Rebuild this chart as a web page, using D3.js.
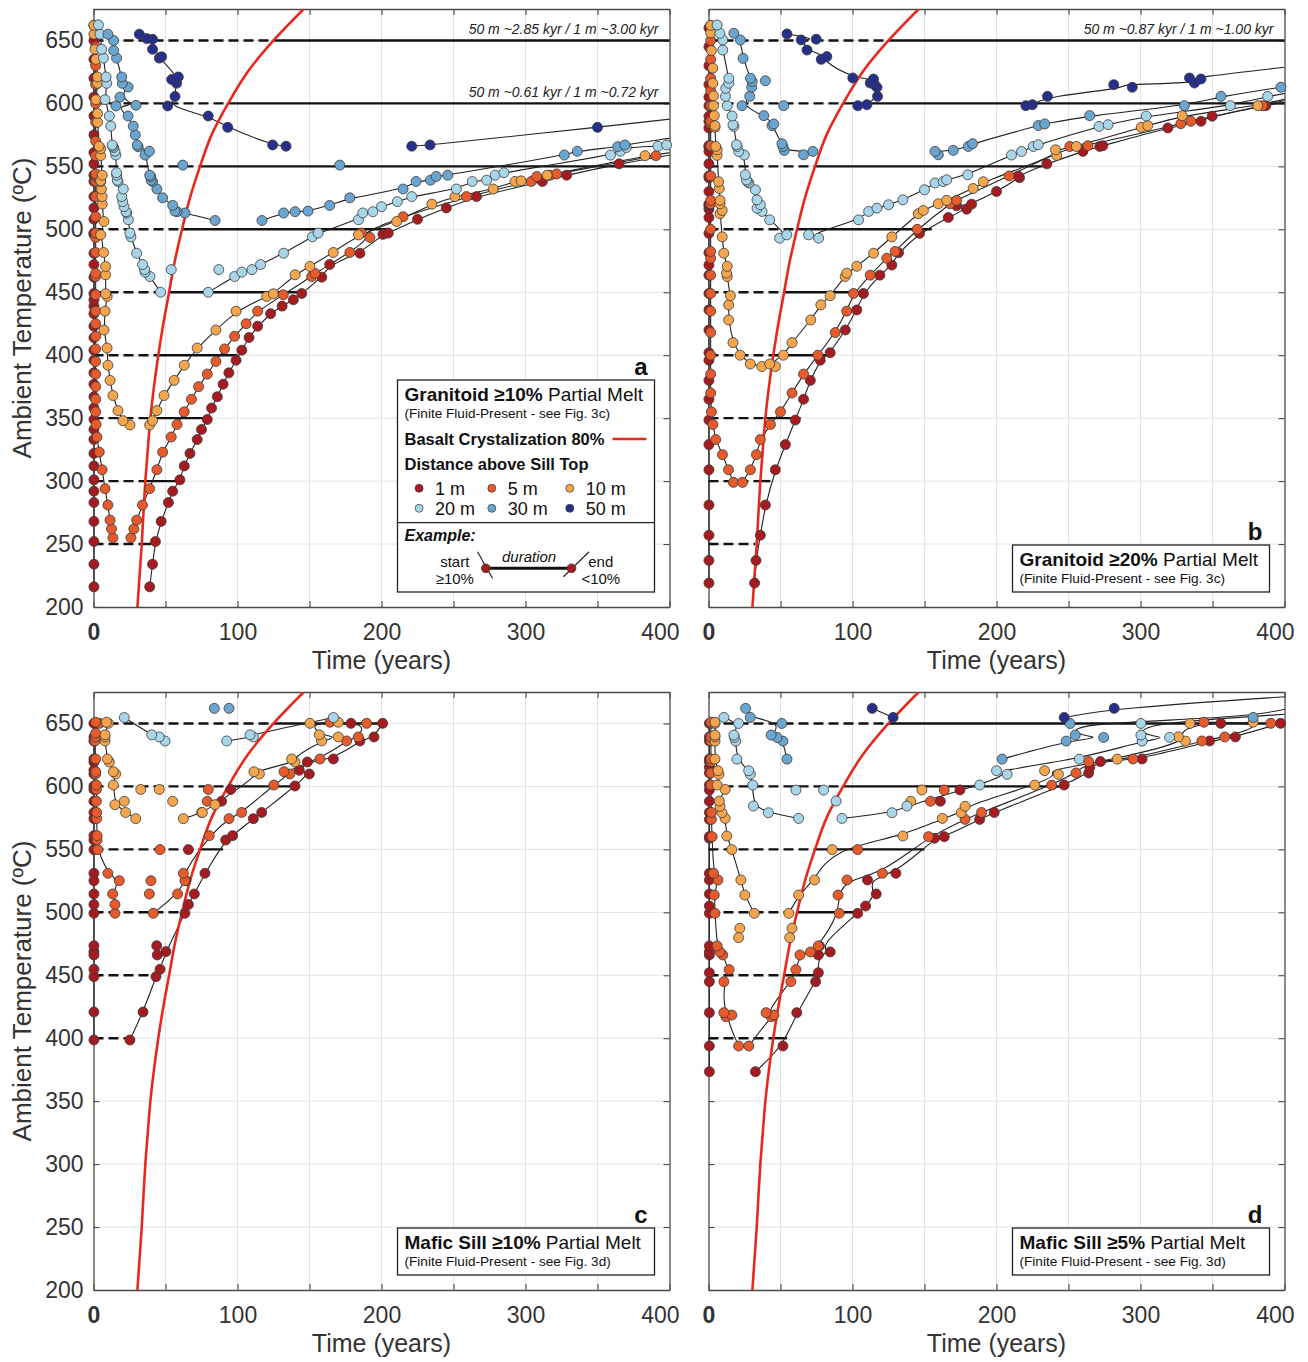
<!DOCTYPE html>
<html><head><meta charset="utf-8">
<script src="https://cdn.jsdelivr.net/npm/d3@7"></script>
<style>
body{margin:0;background:#fff;}
svg{display:block;}
</style></head><body>
<svg id="chart" width="1308" height="1362"></svg>
<script>
// ================= DATA =================
const distances = ["1 m","5 m","10 m","20 m","30 m","50 m"];
const distColors = ["#a51b20","#e75a2b","#f5a54c","#a8d5ea","#6aa5cf","#262f8a"];
const xTicks = [0,50,100,150,200,250,300,350,400];
const xTickLabels = [0,100,200,300,400];
const yTicks = [200,250,300,350,400,450,500,550,600,650];

// Basalt crystallization 80% (time, years) vs ambient temperature
const crystT    = [200,225,250,275,300,325,350,375,400,425,450,475,500,525,550,575,600,625,650,675];
const crystTime = [30.5,32,33.5,34.7,36,37.7,39.5,42,45,48.5,52.5,56.5,61.5,67,74,82,93.5,107,125,146];

// Ambient-temperature levels and 1 m melt end time at each level
const levelsAB = [250,300,350,400,450,500,550,600,650];
const levelsCD = [400,450,500,550,600,650];
const levelEndA = [40,62,80,100,147,205,470,720,3000];
const levelEndB = [32.5,43,64,85,109,155,232,405,1000];
const levelEndC = [26,43,63.5,90,138.5,201];
const levelEndD = [54.6,75.7,105,150,246.7,398];

const notesA = [[650,"50 m ~2.85 kyr / 1 m ~3.00 kyr"],[600,"50 m ~0.61 kyr / 1 m ~0.72 kyr"]];
const notesB = [[650,"50 m ~0.87 kyr / 1 m ~1.00 kyr"]];

// Each row: [ambient T (°C), melt start (yr), melt end (yr)]
// ---- panel a: Granitoid >=10%
const a1m = [[216,0.3,39],[234,0.3,41],[252,0.3,43],[268,0.3,47],[283,0.3,52],[292,0.3,55],[301,0.3,60],[312,0.3,63],[322,0.3,67],[333,0.3,72],[341,0.3,75],[349,0.3,79],[358,0.3,82],[367,0.3,86],[377,0.3,90],[386,0.3,94],[396,0.3,99],[404,0.3,103],[414,0.3,108],[423,0.3,114],[433,0.3,123],[439,0.3,131],[444,0.3,138.8],[449,0.3,144.6],[462,0.3,158.5],[472,0.3,164],[481,0.3,185],[496,0.3,201],[497,0.3,204.7],[508,0.3,225],[517,0.3,245],[526,0.3,266],[538,0.3,311.7],[543,0.3,328.6],[552,0.3,365],[561,0.3,410],[575,0.3,null],[590,0.3,null],[605,0.3,null],[620,0.3,null],[635,0.3,null],[650,0.3,null],[662,0.3,null]];
const a5m = [[255,13.5,26],[262,12.5,28],[269,11.5,30],[281,10,34],[294,8,39],[309,6,44],[323,4,48],[335,2.4,54],[345,1.8,58],[355,1.5,63],[365,1.5,68],[375,1.5,73],[385,1.5,79],[395,1.5,85],[405,1.5,91],[415,1.5,98],[425,1.5,106],[435,1.5,114],[448,1.5,131.8],[462.5,1.5,151.5],[465,1.5,153.8],[481.6,1.5,178],[493.5,1.5,192],[497,1.5,186],[510,1.5,215],[526,1.5,259],[538,1.5,304],[542,1.5,307.8],[543,1.5,317],[544,1.5,321.6],[558.5,1.5,390.6],[570,1.5,null],[585,1.5,null],[600,1.5,null],[615,1.5,null],[630,1.5,null],[645,1.5,null],[660,1.5,null]];
const a10m = [[344.6,25.3,39],[348,20.5,41],[356,17,44],[368,13.5,49],[380,11.5,56],[392,10,63],[405.7,9.4,72],[420,7.3,85],[435,8,99],[446.7,9.5,120.3],[448.8,8.4,124.9],[463.9,8.4,140],[470.5,8.4,150.3],[481.6,7,166.5],[495.6,5,184],[506.2,7.3,210.5],[520,6.1,235],[526,6,251],[532,5.5,277.6],[538,5,292.7],[538.5,5,297],[543,6.1,315],[558.5,5,383],[564,5,420],[566,3.9,null],[585,2.8,null],[592,2.8,null],[603,1.7,null],[616,2.8,null],[621,2.8,null],[635,1.7,null],[643,1,null],[655,0.3,null],[662,0.3,null]];
const a20m = [[450,46.6,79.7],[462.5,39.2,98],[466,35.8,103],[468,35.5,110],[472,34.1,116],[481,30,132],[494,26,152],[497,25.3,156],[507.6,24.2,184],[513,23,187],[514,22.6,194],[518,21.2,200],[522,20.3,211],[526,19.6,221],[532,20.7,252],[538,17,263],[539,16.5,273],[543,16.1,279],[545,16,285],[559,15.5,359],[562,14.9,366],[565,14,370],[566,13.3,392],[567,13,398],[582,12,null],[590,11,null],[603,8,null],[616,9.2,null],[621,8.7,null],[636,6.9,null],[643,5.7,null],[655,4.5,null],[662.4,3.4,null]];
const a30m = [[507,84.4,117],[513,63.5,132],[514,58,140],[514.5,56.6,149],[519,55,164],[525,48,178],[532,44,215],[538,41,224],[539,40,234],[542,39.7,238],[543,39,246],[559,35.8,327],[562,38.8,336],[565.6,31,364],[567,30.4,369],[575,29,415],[582,27.6,null],[590,24,null],[598,15.6,null],[598.5,29.5,null],[605,18.4,null],[613,24,null],[616,20,null],[621,19.6,null],[636,16,null],[642,14,null],[650,14,null],[655,10,null]];
const a50m = [[566,133.7,221],[567,124.4,233.7],[581,93.2,350],[590,79.7,420],[598,51.5,null],[605.5,56.6,null],[616,57.7,null],[619,54.3,null],[621,58.9,null],[636,45.7,null],[637,47.3,null],[643,41,null],[651,41,null],[651.5,36.9,null],[655,31.8,null]];
// isolated dots: [distance index, time, T]
const aExtras = [[3,54,468],[3,87,468],[4,62,551],[4,171,551]];

// ---- panel b: Granitoid >=20%
const b1m = [[219,0.3,32],[237,0.3,33],[257,0.3,36],[281,0.3,39.5],[309,0.3,46.4],[329,0.3,53.4],[348.5,0.3,60.3],[365,0.3,66],[380,0.3,70.7],[396,0.3,77.6],[402,0.3,84.5],[420,0.3,95],[436,0.3,103],[449,0.3,107.6],[463.6,0.3,119],[471.6,0.3,127.3],[481.4,0.3,132],[496.8,0.3,146.5],[509.4,0.3,166.5],[516,0.3,179.3],[518.7,0.3,172.3],[520,0.3,182.7],[530,0.3,200],[541,0.3,216],[542.4,0.3,215],[552,0.3,235],[561.9,0.3,260],[565.8,0.3,271.7],[566.4,0.3,273.8],[580.5,0.3,319],[585.8,0.3,342],[589.8,0.3,349.8],[598.2,0.3,387],[605,0.3,420],[615,0.3,null],[630,0.3,null],[645,0.3,null],[660,0.3,null]];
const b5m = [[299,17.3,23.6],[309,13.9,29.1],[321,9.7,33.3],[333,5,36],[345,3,43],[355,2,50],[370,1.5,58],[385,1.5,66],[400,1.5,76],[418,1.5,88],[435,1.5,96],[449,1.5,100.7],[463.6,1.5,112.3],[477,1.5,123.8],[482.4,1.5,129.6],[500,1.5,145],[520.3,1.5,167.7],[523,1.5,172.3],[542.4,1.5,208.8],[565.8,1.5,250.9],[566.4,1.5,263.5],[583.9,1.5,328],[585.8,1.5,335],[598.2,1.5,384.8],[610,1.5,430],[620,1.5,null],[635,1.5,null],[650,1.5,null],[662,1.5,null]];
const b10m = [[391,37,46.4],[393,29,42.5],[400,22,52],[410,17,58],[428,14,71],[440,14,78],[447.3,15.2,84.5],[462.5,13,94.9],[465.2,12.5,96],[470.6,13,103],[481,10.6,114.6],[494,9.5,127.3],[512.4,8,145.7],[515,9.5,149.2],[520.3,8,159.6],[523,8,165.4],[532.4,7.5,183.8],[537.8,7,190.8],[558.7,6,241.8],[563.2,6,241],[565.8,5,255.5],[581,4.5,300.5],[582.3,4.5,305],[590.3,4,329],[598.2,3.5,381.4],[606,3.5,410],[616,3,null],[628,3,null],[642,2,null],[656,1.5,null],[662,1.5,null]];
const b20m = [[493,49.4,76.5],[495.6,54.4,69.5],[507.5,42.5,104.2],[514.2,37.2,111.2],[516.8,33.7,117],[519.5,36,125],[523.4,33.7,135],[531.4,32.6,150],[536.8,28,157.3],[538,27,163],[539.3,26.3,165.4],[543.3,25.6,180],[559,24.9,210.4],[561.8,21,217.4],[565.8,19.9,225.5],[567.2,19.5,229],[581.7,17.6,271.2],[583.1,17,277.5],[590,16.4,304],[598.2,13,362.4],[605.6,11.8,388.3],[612,12,420],[616,14.1,null],[620,14.1,null],[642.4,9.9,null],[650.4,9.9,null],[655.7,7.9,null],[662.3,6,null]];
const b30m = [[559.2,66,159.6],[561.9,72.5,157.3],[562.7,52.6,170],[565.8,51.7,180.4],[568,51,183.4],[582.4,44.1,229],[583.7,45.3,233.5],[590.3,38.4,264.7],[598.2,23.3,330.5],[605.6,28.6,355.9],[612.9,30,397.5],[617.4,30.3,null],[620,29.1,null],[635.8,24,null],[650.4,22.2,null],[655.7,17.6,null]];
const b50m = [[598.2,103.7,220.4],[599,110,224.9],[605.6,117.4,235.4],[612.8,117,294.3],[614.9,115.3,281.4],[616.2,112.3,337.5],[619.4,114.6,342],[620.2,100.2,334],[630,null,410],[635,78.3,null],[637.2,82.2,null],[642.4,68.4,null],[650.4,64.4,null],[651,74.8,null],[655.2,54.5,null]];
const bExtras = [[4,52.2,598.2],[4,39.5,618]];

// ---- panel c: Mafic sill >=10%
const c1m = [[398.6,0.3,25.3],[420.8,0.3,34.4],[448.9,0.3,43.4],[454.7,0.3,46.2],[468.8,0.3,50.3],[499.2,0.3,63.5],[506.2,0.3,65.9],[514.6,0.3,70],[531,0.3,77.4],[557.4,0.3,91.8],[560.9,0.3,96.6],[574.4,0.3,111],[579.3,0.3,116.8],[600.3,0.3,139.9],[609.9,0.3,149.9],[612.8,0.3,142.9],[619.4,0.3,148.5],[621.8,0.3,166.6],[636.1,0.3,185],[639.3,0.3,194.8],[650.1,0.3,200.8]];
const c5m = [[499.2,14.9,41.5],[506.2,14.9,null],[514.6,13.3,58.4],[525.1,17.9,63.5],[531,10,62.4],[549.8,3,null],[557.4,2.5,null],[560.9,2.5,80.4],[574.4,2.2,94.1],[579.3,2.2,102.9],[588.2,2,null],[597.6,2,null],[601.1,2,125.3],[609.9,1.5,136.4],[611.7,1.5,132.3],[621.8,1.5,157.3],[636.1,1,175.8],[639.3,1.5,183.9],[642.2,1.5,null],[650.1,4.1,189.7],[651,1.5,164.3]];
const c10m = [[574.4,29.3,62.4],[579.3,22.3,75.6],[585.5,14.9,84.4],[601.1,13.8,null],[609.9,15.4,115.2],[611.7,13.8,111.4],[619.4,11,139.9],[621.8,9.6,137.6],[636.1,8,158.4],[639.3,8,170],[641,8,156.8],[650.1,10.3,150.3],[651,9,170]];
const c20m = [[636.1,49.7,92.5],[639.3,45.7,111],[641,40.4,108.7],[654.7,21.4,166.6]];
const c30m = [[662,83.9,94.1]];
const c50m = [];
const cExtras = [[0,0.3,466.1],[0,44.3,466.1],[0,0.3,473.5],[0,43.9,473.5],[0,0.3,525.1],[0,64.2,525.1],[0,0.3,549.8],[0,65.9,549.8],[0,0.3,588.2],[0,88.9,588.2],[0,0.3,597.6],[0,95.3,597.6],[0,178.8,650.1],
  [1,39.9,525.1],[1,38.8,514.6],[1,46.2,549.8],[1,79,588.2],[1,79.7,597.6],[1,75.1,579.3],
  [2,21.4,588.2],[2,55,588.2],[2,32.8,597.6],[2,45.7,597.6]];

// ---- panel d: Mafic sill >=5%
const d1m = [[373.4,0.6,32.6],[393.8,0.6,51.7],[420.3,0.6,61.3],[444.9,0.6,74.4],[452,0.6,76.3],[466.1,0.6,76.3],[468.5,0.6,84.5],[473.3,0.6,77.1],[499.2,0.6,103.6],[505,0.6,109.1],[514.6,0.6,116.5],[525.7,0.6,110.4],[531,0.6,130.1],[558.8,0.6,156.9],[560.1,0.6,163.7],[573.8,0.6,188.3],[579.3,0.6,198.4],[601.1,0.6,247],[610.7,0.6,264],[615.2,0.6,264.8],[619.7,0.6,272.2],[621.8,0.6,301.1],[636.1,0.6,348],[639.3,0.6,365.9],[650.1,0.6,397.3]];
const d5m = [[393.8,20.9,28],[417.1,12.1,43.5],[418.4,16.2,45.4],[420.3,10.7,40],[444.9,10.7,57.2],[454.5,14.3,60.7],[466.1,9.9,63.5],[468.5,8,70.8],[473.3,6,76.3],[499.2,4.5,90.8],[513.7,4,90],[525.7,6.6,96.2],[531,3.5,120.8],[560.1,2.5,152.8],[573.8,2,178.2],[579.3,2,189.6],[601.1,1.7,238.3],[610.7,1.7,255.2],[619.7,1.7,264],[621.8,1.7,294.8],[636.1,1.7,342.6],[639.3,1.7,358.5],[650.1,1.7,390.5],[651,1.7,344]];
const d10m = [[499.2,31.8,55.8],[513.7,25.2,62.6],[525.7,22.5,73.6],[549.8,16.2,85.9],[560.6,12.7,135],[574.6,11.6,162.4],[579.1,9.4,175.5],[584.2,8,178.2],[588.4,7.5,null],[597.6,11.6,null],[601.1,6,226.6],[609.6,7.2,243],[612.5,6.6,233.4],[621.7,4.5,283.9],[636,4.5,331.2],[639.4,4.5,326.3],[640.8,4.5,null],[650,4.5,334.4],[651,4.5,378.2]];
const d20m = [[574.6,62.6,92.7],[579.1,41.6,127.4],[584.4,31.2,137.8],[601.1,30.7,188.3],[609.6,29,207.4],[612.5,27.9,200],[621.7,19.7,257.5],[636,18.9,301.1],[639,18,320.2],[640.8,17.6,300.3],[650,20.9,300.3],[654.8,10.7,null],[658,null,410]];
const d30m = [[621.7,54.5,203.9],[636,51.7,248.4],[638.9,47.6,274.4],[640.8,43.5,254.7],[650,50.9,251.1],[654.8,29,378.2],[662,25.8,null],[664,null,410]];
const d50m = [[654.8,128.2,247],[662,113.7,281.7],[672,null,410]];
const dExtras = [[0,355.8,650.1],[0,161,588.2],[0,174.6,597.2],[0,0.6,588.2],[0,0.6,597.2],
  [1,154.2,588.2],[1,163.7,597.2],[1,103.6,549.8],
  [2,140.5,588.2],[2,148.2,597.2],[2,21.7,487.3],[2,20.9,479.9],[2,58,487.3],[2,56.4,479.9],
  [3,60.7,597.1],[3,79.9,597.1],[3,88.6,588.4]];

const titleA = ["Granitoid ≥10%"," Partial Melt","(Finite Fluid-Present - see Fig. 3c)"];
const titleB = ["Granitoid ≥20%"," Partial Melt","(Finite Fluid-Present - see Fig. 3c)"];
const titleC = ["Mafic Sill ≥10%"," Partial Melt","(Finite Fluid-Present - see Fig. 3d)"];
const titleD = ["Mafic Sill ≥5%"," Partial Melt","(Finite Fluid-Present - see Fig. 3d)"];

// ================= RENDER =================
const FONT = '"Liberation Sans", Arial, Helvetica, sans-serif';
const svg = d3.select('#chart').attr('font-family', FONT);
svg.append('rect').attr('width',1308).attr('height',1362).attr('fill','#fff');
const W = 576, H = 598;
const AX = '#4a4a4a';
const DOT_R = 5;
const crystAt = d3.scaleLinear().domain(crystT).range(crystTime);

const panels = [
  {key:'a', left:93.5, top:9,  series:[a1m,a5m,a10m,a20m,a30m,a50m], extras:aExtras, levels:levelsAB, ends:levelEndA, notes:notesA, yLab:true, title:titleA, full:true},
  {key:'b', left:708.5, top:9, series:[b1m,b5m,b10m,b20m,b30m,b50m], extras:bExtras, levels:levelsAB, ends:levelEndB, notes:notesB, yLab:false, title:titleB, full:false},
  {key:'c', left:93.5, top:692, series:[c1m,c5m,c10m,c20m,c30m,c50m], extras:cExtras, levels:levelsCD, ends:levelEndC, notes:[], yLab:true, title:titleC, full:false},
  {key:'d', left:708.5, top:692, series:[d1m,d5m,d10m,d20m,d30m,d50m], extras:dExtras, levels:levelsCD, ends:levelEndD, notes:[], yLab:false, title:titleD, full:false}
];

function styleAxis(sel){
  sel.attr('font-family', FONT).attr('font-size', 23);
  sel.select('path.domain').attr('stroke', AX).attr('stroke-width', 1.3);
  sel.selectAll('.tick line').attr('stroke', AX).attr('stroke-width', 1.1);
  sel.selectAll('.tick text').attr('fill', '#333');
}

panels.forEach(p => {
  const x = d3.scaleLinear().domain([0,400]).range([p.left, p.left+W]);
  const y = d3.scaleLinear().domain([200,675]).range([p.top+H, p.top]);
  const g = svg.append('g');
  const clipId = 'clip-' + p.key;
  svg.append('clipPath').attr('id', clipId).append('rect')
    .attr('x', x(0)-6).attr('y', y(675)).attr('width', W+6).attr('height', H);

  // grid
  g.append('g').selectAll('line').data(xTicks.filter(v => v>0 && v<400)).join('line')
    .attr('x1', d=>x(d)).attr('x2', d=>x(d)).attr('y1', y(200)).attr('y2', y(675))
    .attr('stroke', '#e3e3e3').attr('stroke-width', 1);
  g.append('g').selectAll('line').data(yTicks.filter(v => v>200)).join('line')
    .attr('x1', x(0)).attr('x2', x(400)).attr('y1', d=>y(d)).attr('y2', d=>y(d))
    .attr('stroke', '#e3e3e3').attr('stroke-width', 1);

  // axes (box with inward ticks)
  const bx = g.append('g').attr('transform', `translate(0,${y(200)})`)
    .call(d3.axisBottom(x).tickValues(xTicks).tickSizeInner(-6).tickSizeOuter(0).tickPadding(17)
      .tickFormat(d => xTickLabels.includes(d) ? String(d) : ''));
  styleAxis(bx);
  bx.selectAll('.tick text').filter(d => d === 0).attr('font-weight', 'bold');
  bx.selectAll('.tick text').filter(d => d === 400).attr('dx', '-0.42em');
  const tx = g.append('g').attr('transform', `translate(0,${y(675)})`)
    .call(d3.axisTop(x).tickValues(xTicks).tickSizeInner(-6).tickSizeOuter(0).tickFormat(() => ''));
  styleAxis(tx);
  const ly = g.append('g').attr('transform', `translate(${x(0)},0)`)
    .call(d3.axisLeft(y).tickValues(yTicks).tickSizeInner(-6).tickSizeOuter(0).tickPadding(10)
      .tickFormat(d => p.yLab ? String(d) : ''));
  styleAxis(ly);
  const ry = g.append('g').attr('transform', `translate(${x(400)},0)`)
    .call(d3.axisRight(y).tickValues(yTicks).tickSizeInner(-6).tickSizeOuter(0).tickFormat(() => ''));
  styleAxis(ry);

  // axis titles
  g.append('text').attr('x', x(200)).attr('y', y(200)+62).attr('text-anchor','middle')
    .attr('font-size', 25).attr('fill','#333').text('Time (years)');
  if (p.yLab) {
    const cy = (y(200)+y(675))/2;
    g.append('text').attr('transform', `translate(31,${cy}) rotate(-90)`).attr('text-anchor','middle')
      .attr('font-size', 26).attr('fill','#333').text('Ambient Temperature (ºC)');
  }

  const clipped = g.append('g').attr('clip-path', `url(#${clipId})`);

  // ambient temperature level lines: dashed before basalt crystallization, solid after
  p.levels.forEach((L, i) => {
    const E = p.ends[i], r = crystAt(L);
    clipped.append('line').attr('x1', x(0)).attr('x2', x(Math.min(r, E)))
      .attr('y1', y(L)).attr('y2', y(L)).attr('stroke', '#111').attr('stroke-width', 2.4)
      .attr('stroke-dasharray', '10,5');
    if (E > r) clipped.append('line').attr('x1', x(r)).attr('x2', x(E))
      .attr('y1', y(L)).attr('y2', y(L)).attr('stroke', '#111').attr('stroke-width', 2.4);
  });

  // connecting curves
  const lineGen = d3.line().x(d => x(d[0])).y(d => y(d[1])).curve(d3.curveBasis);
  p.series.forEach(ser => {
    const st = ser.filter(d => d[1] != null).map(d => [d[1], d[0]]).sort((a,b) => a[1]-b[1]);
    const en = ser.filter(d => d[2] != null).map(d => [d[2], d[0]]).sort((a,b) => a[1]-b[1]);
    [st, en].forEach(pts => {
      if (pts.length > 1) clipped.append('path').attr('d', lineGen(pts))
        .attr('fill','none').attr('stroke','#222').attr('stroke-width', 1.1);
    });
  });

  // basalt crystallization curve
  const crystPts = crystT.map((T,i) => [crystTime[i], T]);
  clipped.append('path').attr('d', d3.line().x(d => x(d[0])).y(d => y(d[1])).curve(d3.curveMonotoneY)(crystPts))
    .attr('fill','none').attr('stroke','#e8281d').attr('stroke-width', 2.6);

  // dots
  const dots = [];
  p.series.forEach((ser, k) => {
    ser.forEach(d => {
      if (d[1] != null && d[1] <= 400) dots.push([k, d[1], d[0]]);
      if (d[2] != null && d[2] <= 400) dots.push([k, d[2], d[0]]);
    });
  });
  p.extras.forEach(e => dots.push(e));
  dots.sort((a,b) => a[0]-b[0]);
  g.append('g').selectAll('circle').data(dots).join('circle')
    .attr('cx', d => x(d[1])).attr('cy', d => y(d[2])).attr('r', DOT_R)
    .attr('fill', d => distColors[d[0]]).attr('stroke', '#3a3a3a').attr('stroke-width', 0.8);

  // notes at top
  p.notes.forEach(n => {
    g.append('text').attr('x', x(400)-11).attr('y', y(n[0])-6).attr('text-anchor','end')
      .attr('font-size', 14).attr('font-style','italic').attr('fill','#222').text(n[1]);
  });

  // legend / title box
  const boxL = x(0)+304, boxR = x(400)-15, boxB = y(200)-15;
  const boxT = p.full ? y(675)+371 : y(200)-62;
  g.append('rect').attr('x', boxL).attr('y', boxT).attr('width', boxR-boxL).attr('height', boxB-boxT)
    .attr('fill','#fff').attr('stroke','#222').attr('stroke-width', 1.3);
  const t1 = g.append('text').attr('x', boxL+7).attr('y', boxT+20.5).attr('font-size', 19).attr('fill','#111');
  t1.append('tspan').attr('font-weight','bold').text(p.title[0]);
  t1.append('tspan').text(p.title[1]);
  g.append('text').attr('x', boxL+7).attr('y', boxT+38).attr('font-size', 13.6).attr('fill','#111').text(p.title[2]);
  g.append('text').attr('x', boxR-7).attr('y', boxT-5).attr('text-anchor','end')
    .attr('font-size', 24).attr('font-weight','bold').attr('fill','#111').text(p.key);

  if (p.full) {
    g.append('text').attr('x', boxL+7).attr('y', boxT+64.5).attr('font-size', 16.5).attr('font-weight','bold')
      .attr('fill','#111').text('Basalt Crystalization 80%');
    g.append('line').attr('x1', boxL+215).attr('x2', boxL+249).attr('y1', boxT+59).attr('y2', boxT+59)
      .attr('stroke','#e8281d').attr('stroke-width', 2.6);
    g.append('text').attr('x', boxL+7).attr('y', boxT+90).attr('font-size', 16.5).attr('font-weight','bold')
      .attr('fill','#111').text('Distance above Sill Top');
    const colX = [21.6, 94.3, 172.3], rowY = [108.3, 128.3];
    distances.forEach((name, k) => {
      const cx = boxL + colX[k % 3], cy = boxT + rowY[Math.floor(k / 3)];
      g.append('circle').attr('cx', cx).attr('cy', cy).attr('r', 4)
        .attr('fill', distColors[k]).attr('stroke','#3a3a3a').attr('stroke-width', 0.7);
      g.append('text').attr('x', cx + 16).attr('y', cy + 6.5).attr('font-size', 18).attr('fill','#111').text(name);
    });
    g.append('line').attr('x1', boxL).attr('x2', boxR).attr('y1', boxT+142.7).attr('y2', boxT+142.7)
      .attr('stroke','#222').attr('stroke-width', 1.3);
    g.append('text').attr('x', boxL+7).attr('y', boxT+161).attr('font-size', 16).attr('font-weight','bold')
      .attr('font-style','italic').attr('fill','#111').text('Example:');
    const ex1 = boxL+88.3, ex2 = boxL+174, ey = boxT+188.3;
    g.append('line').attr('x1', boxL+80).attr('y1', boxT+171.7).attr('x2', boxL+95).attr('y2', boxT+198.3)
      .attr('stroke','#222').attr('stroke-width', 1.2);
    g.append('line').attr('x1', boxL+166).attr('y1', boxT+196.7).attr('x2', boxL+191.6).attr('y2', boxT+171.7)
      .attr('stroke','#222').attr('stroke-width', 1.2);
    g.append('line').attr('x1', ex1).attr('x2', ex2).attr('y1', ey).attr('y2', ey)
      .attr('stroke','#111').attr('stroke-width', 3);
    [ex1, ex2].forEach(cx => g.append('circle').attr('cx', cx).attr('cy', ey).attr('r', 4.4)
      .attr('fill', distColors[0]).attr('stroke','#3a3a3a').attr('stroke-width', 0.8));
    const small = (tx, ty, s, it) => g.append('text').attr('x', tx).attr('y', ty).attr('text-anchor','middle')
      .attr('font-size', 15).attr('font-style', it ? 'italic' : 'normal').attr('fill','#111').text(s);
    small(boxL+57.3, boxT+186.7, 'start');
    small(boxL+57.3, boxT+203.5, '≥10%');
    small(boxL+131.6, boxT+181.7, 'duration', true);
    small(boxL+203.3, boxT+186.7, 'end');
    small(boxL+203.3, boxT+203.5, '<10%');
  }
});
</script>
</body></html>
